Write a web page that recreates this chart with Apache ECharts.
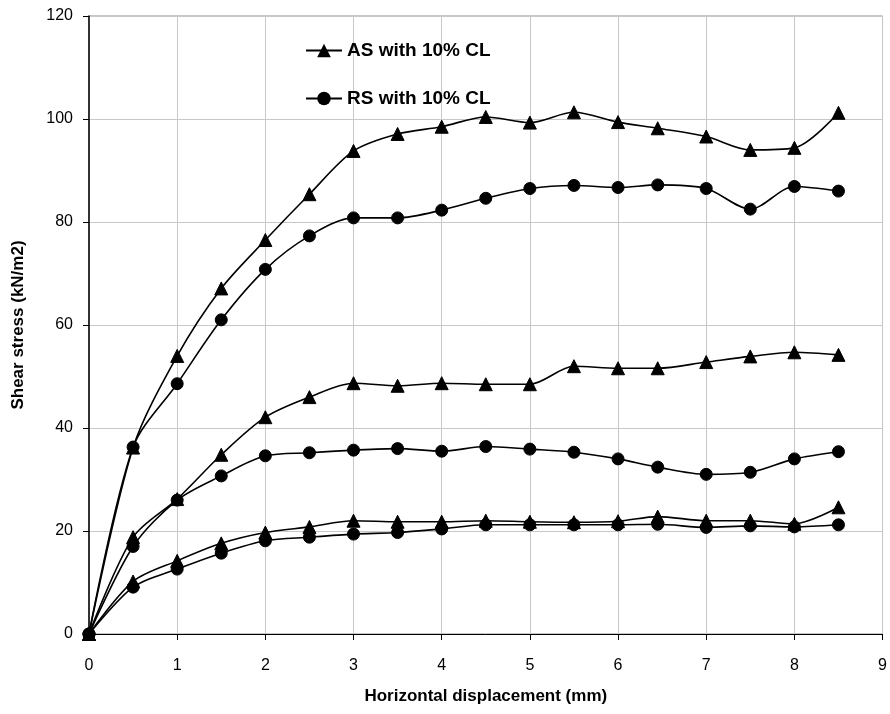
<!DOCTYPE html>
<html>
<head>
<meta charset="utf-8">
<script src="https://cdn.jsdelivr.net/npm/echarts@6/dist/echarts.min.js"></script>
<style>
  html, body { margin: 0; padding: 0; background: #fff; }
  #chart { width: 890px; height: 714px; }
</style>
</head>
<body>
<div id="chart"></div>
<script>
// Horizontal displacement (mm) at each reading
const displacement = [0, 0.5, 1, 1.5, 2, 2.5, 3, 3.5, 4, 4.5, 5, 5.5, 6, 6.45, 7, 7.5, 8, 8.5];

// Shear stress (kN/m2), three normal-stress levels per soil
const asHigh = [0, 36.2, 54.0, 67.1, 76.5, 85.4, 93.8, 97.1, 98.5, 100.4, 99.3, 101.3, 99.4, 98.2, 96.6, 94.0, 94.4, 101.2];
const rsHigh = [0, 36.3, 48.6, 61.0, 70.8, 77.3, 80.8, 80.8, 82.3, 84.6, 86.5, 87.1, 86.7, 87.2, 86.5, 82.5, 86.9, 86.0];
const asMid  = [0, 18.8, 26.2, 34.8, 42.1, 46.0, 48.7, 48.2, 48.7, 48.5, 48.5, 52.0, 51.6, 51.6, 52.8, 53.9, 54.7, 54.2];
const rsMid  = [0, 17.0, 26.0, 30.7, 34.6, 35.2, 35.7, 36.0, 35.5, 36.4, 35.9, 35.3, 34.0, 32.4, 31.0, 31.4, 34.0, 35.4];
const asLow  = [0, 10.2, 14.2, 17.6, 19.7, 20.8, 22.0, 21.8, 21.8, 22.0, 21.8, 21.7, 21.9, 22.8, 22.0, 22.0, 21.4, 24.6];
const rsLow  = [0, 9.1, 12.6, 15.7, 18.1, 18.8, 19.4, 19.7, 20.4, 21.2, 21.2, 21.2, 21.2, 21.3, 20.7, 21.0, 20.8, 21.2];

const asName = 'AS with 10% CL';
const rsName = 'RS with 10% CL';

const xTicks = [0, 1, 2, 3, 4, 5, 6, 7, 8, 9];
const yTicks = [0, 20, 40, 60, 80, 100, 120];

const font = '"Liberation Sans", Arial, sans-serif';

function pairs(ys) {
  return displacement.map((x, i) => [x, ys[i]]);
}

function makeSeries(name, ys, symbol) {
  return {
    name: name,
    type: 'line',
    data: pairs(ys),
    smooth: 0.3,
    symbol: symbol,
    symbolSize: symbol === 'triangle' ? 13 : 12,
    showSymbol: true,
    lineStyle: { color: '#000', width: 1.6 },
    itemStyle: { color: '#000', borderColor: '#000' },
    emphasis: { disabled: true },
    z: 3
  };
}

const chart = echarts.init(document.getElementById('chart'), null, { renderer: 'canvas' });

chart.setOption({
  animation: false,
  backgroundColor: '#fff',
  grid: {
    left: 89, right: 5, top: 16, bottom: 80,
    show: true, borderColor: '#8c8c8c', borderWidth: 1, backgroundColor: 'transparent'
  },
  legend: {
    data: [asName, rsName],
    orient: 'vertical',
    left: 300,
    top: 36,
    itemGap: 29,
    itemWidth: 36,
    itemHeight: 17,
    textStyle: { fontFamily: font, fontWeight: 'bold', fontSize: 19, color: '#000', padding: [0, 0, 0, 0] }
  },
  xAxis: {
    type: 'value',
    min: 0, max: 9, interval: 1,
    name: 'Horizontal displacement (mm)',
    nameLocation: 'middle',
    nameGap: 54,
    nameTextStyle: { fontFamily: font, fontWeight: 'bold', fontSize: 17, color: '#000' },
    axisLine: { show: true, onZero: false, lineStyle: { color: '#000', width: 1 } },
    axisTick: { show: true, inside: false, length: 6, lineStyle: { color: '#000' } },
    axisLabel: {
      fontFamily: font, fontSize: 16, color: '#000', margin: 24,
      formatter: v => (xTicks.includes(v) ? String(v) : '')
    },
    splitLine: { show: true, lineStyle: { color: '#c8c8c8', width: 1 } }
  },
  yAxis: {
    type: 'value',
    min: 0, max: 120, interval: 20,
    name: 'Shear stress (kN/m2)',
    nameLocation: 'middle',
    nameGap: 62,
    nameRotate: 90,
    nameTextStyle: { fontFamily: font, fontWeight: 'bold', fontSize: 17, color: '#000' },
    axisLine: { show: true, onZero: false, lineStyle: { color: '#000', width: 1.5 } },
    axisTick: { show: true, inside: false, length: 6, lineStyle: { color: '#000' } },
    axisLabel: {
      fontFamily: font, fontSize: 16, color: '#000', margin: 16,
      formatter: v => (yTicks.includes(v) ? String(v) : '')
    },
    splitLine: { show: true, lineStyle: { color: '#c8c8c8', width: 1 } }
  },
  series: [
    makeSeries(asName, asHigh, 'triangle'),
    makeSeries(rsName, rsHigh, 'circle'),
    makeSeries(asName, asMid, 'triangle'),
    makeSeries(rsName, rsMid, 'circle'),
    makeSeries(asName, asLow, 'triangle'),
    makeSeries(rsName, rsLow, 'circle')
  ]
});
</script>
</body>
</html>
